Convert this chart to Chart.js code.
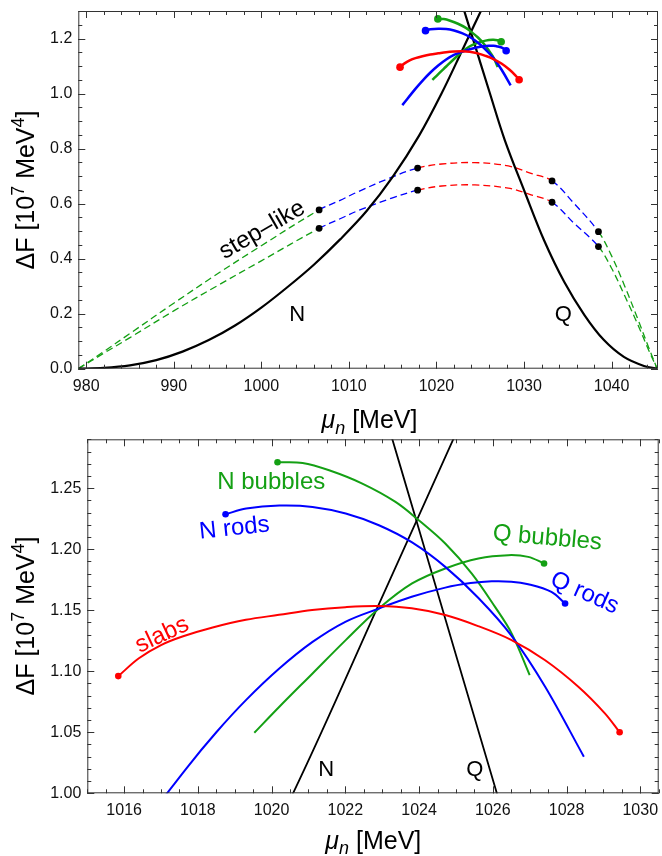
<!DOCTYPE html>
<html>
<head>
<meta charset="utf-8">
<script src="https://cdn.jsdelivr.net/npm/chart.js@4.4.1/dist/chart.umd.min.js"></script>
<style>
  html, body { margin: 0; padding: 0; background: #fff; }
  #wrap { position: relative; width: 662px; height: 856px; }
  canvas { position: absolute; left: 0; }
  #topChart { top: 0; }
  #bottomChart { top: 436px; }
</style>
</head>
<body>
<div id="wrap">
  <canvas id="topChart" width="662" height="436" style="width:662px;height:436px"></canvas>
  <canvas id="bottomChart" width="662" height="420" style="width:662px;height:420px"></canvas>
</div>
<script>
// --- tick labels ---
const topXTicks = [980, 990, 1000, 1010, 1020, 1030, 1040];
const topYTicks = [0, 0.2, 0.4, 0.6, 0.8, 1.0, 1.2];
const bottomXTicks = [1016, 1018, 1020, 1022, 1024, 1026, 1028, 1030];
const bottomYTicks = [1.00, 1.05, 1.10, 1.15, 1.20, 1.25];

// --- homogeneous phases (black) ---
const nPhaseX = [979.1, 982, 985, 988, 991, 994, 997, 1000, 1003, 1006, 1009, 1012, 1015, 1018, 1020.58, 1023, 1025.3];
const nPhaseY = [0, 0.003, 0.012, 0.031, 0.062, 0.104, 0.157, 0.222, 0.297, 0.378, 0.470, 0.572, 0.697, 0.846, 1.0, 1.161, 1.315];
const qPhaseX = [1023.0, 1024, 1026.11, 1027.8, 1030.05, 1032.3, 1034.6, 1036.9, 1039.1, 1041.4, 1043.7, 1045.2];
const qPhaseY = [1.318, 1.216, 1.0, 0.831, 0.645, 0.466, 0.315, 0.195, 0.105, 0.043, 0.01, 0];

// --- pasta phases ---
const slabsX = [1015.84, 1016.4, 1017.0, 1017.6, 1018.4, 1019.3, 1020.2, 1021.1, 1022.0, 1022.9, 1023.8, 1024.71, 1025.6, 1026.51, 1027.42, 1028.32, 1029.04, 1029.44];
const slabsY = [1.096, 1.1106, 1.1214, 1.1286, 1.1358, 1.1421, 1.1462, 1.1502, 1.1525, 1.1534, 1.1515, 1.146, 1.137, 1.1255, 1.109, 1.0873, 1.0655, 1.050];
const nRodsX = [1018.75, 1019.31, 1020.21, 1021.11, 1022.01, 1022.91, 1023.81, 1024.71, 1025.61, 1026.51, 1027.42, 1028.47];
const nRodsY = [1.2286, 1.2333, 1.2357, 1.2346, 1.2292, 1.2196, 1.2055, 1.1855, 1.160, 1.129, 1.0873, 1.030];
const qRodsX = [1016.1, 1017.69, 1018.5, 1019.31, 1020.2, 1021.11, 1022.0, 1022.91, 1023.8, 1024.71, 1025.4, 1025.97, 1026.5, 1026.96, 1027.59, 1027.96];
const qRodsY = [0.958, 1.0205, 1.0500, 1.0765, 1.1020, 1.1240, 1.1405, 1.1514, 1.1610, 1.1685, 1.1722, 1.1737, 1.1734, 1.1713, 1.1650, 1.1555];
const nBubblesX = [1020.16, 1020.84, 1021.56, 1022.46, 1023.36, 1023.99, 1024.71, 1025.43, 1026.06, 1026.51, 1027.0];
const nBubblesY = [1.2712, 1.2706, 1.2646, 1.2537, 1.2387, 1.2237, 1.2046, 1.180, 1.1527, 1.131, 1.0968];
const qBubblesX = [1019.53, 1020.21, 1021.11, 1022.01, 1022.91, 1023.81, 1024.71, 1025.61, 1026.42, 1026.96, 1027.39];
const qBubblesY = [1.0496, 1.0709, 1.0982, 1.1255, 1.1514, 1.1719, 1.1842, 1.1924, 1.1951, 1.1937, 1.1883];

// --- step-like profiles (dashed) ---
const stepX = [979.1, 982, 985, 990, 995, 1000, 1006.6, 1009, 1011.1, 1014.9, 1017.85, 1020.6, 1024.4, 1028.2, 1030.8, 1033.2, 1035.7, 1038.5, 1040, 1041.5, 1043, 1044.2, 1045.2];
const stepUpperY = [0, 0.062, 0.128, 0.238, 0.345, 0.447, 0.577, 0.612, 0.644, 0.696, 0.729, 0.744, 0.749, 0.737, 0.710, 0.6825, 0.601, 0.498, 0.41, 0.30, 0.18, 0.08, 0];
const stepLowerY = [0, 0.056, 0.113, 0.210, 0.302, 0.392, 0.510, 0.545, 0.575, 0.620, 0.649, 0.664, 0.668, 0.656, 0.632, 0.605, 0.529, 0.444, 0.365, 0.265, 0.16, 0.07, 0];
const stepBreaks = [1006.6, 1017.85, 1033.2, 1038.5];

const RED = '#ff0000', BLUE = '#0000ff', GREEN = 'rgb(20,160,20)', BLACK = '#000';
const stepColors = [GREEN, BLUE, RED, BLUE, GREEN];
const FONT = "'Liberation Sans', Arial, sans-serif";

function pts(xs, ys) {
    return xs.map((x, i) => ({ x: x, y: ys[i] }));
}

// a solid curve; dots = which ends get a filled circle
function curve(xs, ys, color, width, dots, r) {
    const last = xs.length - 1;
    return {
        data: pts(xs, ys),
        showLine: true,
        borderColor: color,
        borderWidth: width,
        pointBackgroundColor: color,
        pointBorderWidth: 0,
        pointRadius: xs.map((_, i) =>
            (dots.includes('start') && i === 0) || (dots.includes('end') && i === last) ? r : 0),
        pointHoverRadius: 0,
        tension: 0.35,
        fill: false
    };
}

function stepColor(x) {
    let k = 0;
    stepBreaks.forEach(b => { if (x >= b - 1e-6) k++; });
    return stepColors[k];
}

function stepCurve(ys) {
    return {
        data: pts(stepX, ys),
        showLine: true,
        borderColor: GREEN,
        borderWidth: 1.3,
        borderDash: [7, 4],
        pointRadius: 0,
        tension: 0.35,
        segment: { borderColor: c => stepColor(c.p0.parsed.x) },
        fill: false
    };
}

function stepDots() {
    const out = [];
    stepX.forEach((x, i) => {
        if (stepBreaks.includes(x)) {
            out.push({ x: x, y: stepUpperY[i] }, { x: x, y: stepLowerY[i] });
        }
    });
    return { data: out, showLine: false, pointRadius: 3.4, pointBackgroundColor: BLACK, pointBorderWidth: 0 };
}

// frame with inward ticks on all four sides (Mathematica style)
const framePlugin = {
    id: 'frame',
    afterDraw(chart, args, o) {
        const { ctx, chartArea: a, scales } = chart;
        const sx = scales.x, sy = scales.y;
        ctx.save();
        ctx.strokeStyle = '#333';
        ctx.lineWidth = 1;
        ctx.strokeRect(a.left + 0.5, a.top + 0.5, a.right - a.left - 1, a.bottom - a.top - 1);
        const minors = (s, step) => {
            const res = [];
            for (let k = Math.ceil(s.min / step - 1e-9); k <= Math.floor(s.max / step + 1e-9); k++) res.push(k * step);
            return res;
        };
        const xTick = (v, len) => {
            const p = Math.round(sx.getPixelForValue(v)) + 0.5;
            ctx.beginPath();
            ctx.moveTo(p, a.bottom); ctx.lineTo(p, a.bottom - len);
            ctx.moveTo(p, a.top); ctx.lineTo(p, a.top + len);
            ctx.stroke();
        };
        const yTick = (v, len) => {
            const p = Math.round(sy.getPixelForValue(v)) + 0.5;
            ctx.beginPath();
            ctx.moveTo(a.left, p); ctx.lineTo(a.left + len, p);
            ctx.moveTo(a.right, p); ctx.lineTo(a.right - len, p);
            ctx.stroke();
        };
        minors(sx, o.xMinor).forEach(v => xTick(v, 4));
        minors(sy, o.yMinor).forEach(v => yTick(v, 4));
        o.xMajor.forEach(v => xTick(v, 7));
        o.yMajor.forEach(v => yTick(v, 7));
        ctx.restore();
    }
};

function partFont(p, size) {
    const s = (p.sup || p.sub) ? Math.round(size * 0.7) : size;
    return (p.italic ? 'italic ' : '') + s + 'px ' + FONT;
}

function drawRich(ctx, parts, cx, baseY, size) {
    const widths = parts.map(p => { ctx.font = partFont(p, size); return ctx.measureText(p.t).width; });
    let x = cx - widths.reduce((s, w) => s + w, 0) / 2;
    ctx.textAlign = 'left';
    ctx.textBaseline = 'alphabetic';
    parts.forEach((p, i) => {
        ctx.font = partFont(p, size);
        const dy = p.sup ? -0.4 * size : (p.sub ? 0.22 * size : 0);
        ctx.fillText(p.t, x, baseY + dy);
        x += widths[i];
    });
}

const yTitleParts = [{ t: 'ΔF [10' }, { t: '7', sup: true }, { t: ' MeV' }, { t: '4', sup: true }, { t: ']' }];
const xTitleParts = [{ t: 'μ', italic: true }, { t: 'n', italic: true, sub: true }, { t: ' [MeV]' }];

// axis titles and in-plot labels
const textPlugin = {
    id: 'texts',
    afterDraw(chart, args, o) {
        const { ctx, scales } = chart;
        ctx.save();
        ctx.fillStyle = '#000';
        drawRich(ctx, xTitleParts, o.xTitle.x, o.xTitle.y, 25);
        ctx.translate(o.yTitle.x, o.yTitle.y);
        ctx.rotate(-Math.PI / 2);
        drawRich(ctx, yTitleParts, 0, 0, 25);
        ctx.restore();

        o.labels.forEach(l => {
            ctx.save();
            ctx.translate(scales.x.getPixelForValue(l.x), scales.y.getPixelForValue(l.y));
            ctx.rotate((l.rot || 0) * Math.PI / 180);
            ctx.fillStyle = l.color || '#000';
            ctx.font = l.size + 'px ' + FONT;
            ctx.textAlign = 'center';
            ctx.textBaseline = 'middle';
            ctx.fillText(l.text, 0, 0);
            ctx.restore();
        });
    }
};

function makeOptions(cfg) {
    const tickFont = { family: FONT, size: 16 };
    return {
        responsive: false,
        maintainAspectRatio: false,
        animation: false,
        events: [],
        layout: { padding: cfg.padding },
        scales: {
            x: {
                type: 'linear',
                min: cfg.xMin, max: cfg.xMax,
                afterBuildTicks: s => { s.ticks = cfg.xTicks.map(v => ({ value: v })); },
                afterFit: s => { s.height = cfg.xHeight; s.paddingLeft = 0; s.paddingRight = 0; },
                grid: { display: false, drawTicks: false },
                border: { display: false },
                ticks: { font: tickFont, color: '#111', padding: 8, maxRotation: 0, autoSkip: false, callback: v => String(v) }
            },
            y: {
                type: 'linear',
                min: cfg.yMin, max: cfg.yMax,
                afterBuildTicks: s => { s.ticks = cfg.yTicks.map(v => ({ value: v })); },
                afterFit: s => { s.width = cfg.yWidth; s.paddingTop = 0; s.paddingBottom = 0; },
                grid: { display: false, drawTicks: false },
                border: { display: false },
                ticks: { font: tickFont, color: '#111', padding: 6, autoSkip: false, callback: v => v.toFixed(cfg.yDigits) }
            }
        },
        plugins: {
            legend: { display: false },
            tooltip: { enabled: false },
            frame: { xMajor: cfg.xTicks, xMinor: cfg.xMinor, yMajor: cfg.yTicks, yMinor: cfg.yMinor },
            texts: { xTitle: cfg.xTitle, yTitle: cfg.yTitle, labels: cfg.labels }
        }
    };
}

// top: full range
new Chart(document.getElementById('topChart'), {
    type: 'scatter',
    data: {
        datasets: [
            stepDots(),
            curve(slabsX, slabsY, RED, 2.5, ['start', 'end'], 3.8),
            curve(nRodsX, nRodsY, BLUE, 2.5, ['start'], 3.8),
            curve(qRodsX, qRodsY, BLUE, 2.5, ['end'], 3.8),
            curve(nBubblesX, nBubblesY, GREEN, 2.5, ['start'], 3.8),
            curve(qBubblesX, qBubblesY, GREEN, 2.5, ['end'], 3.8),
            curve(nPhaseX, nPhaseY, BLACK, 2.2, [], 0),
            curve(qPhaseX, qPhaseY, BLACK, 2.2, [], 0),
            stepCurve(stepUpperY),
            stepCurve(stepLowerY)
        ]
    },
    options: makeOptions({
        padding: { top: 11, right: 1.3, left: 0, bottom: 0 },
        xMin: 979.1, xMax: 1045.3, xTicks: topXTicks, xMinor: 2, xHeight: 67.3,
        yMin: 0, yMax: 1.3, yTicks: topYTicks, yMinor: 0.05, yWidth: 78.3, yDigits: 1,
        xTitle: { x: 369.5, y: 428 },
        yTitle: { x: 34, y: 190 },
        labels: [
            { text: 'step–like', x: 1000.1, y: 0.504, rot: -30, size: 24 },
            { text: 'N', x: 1004.1, y: 0.195, size: 22 },
            { text: 'Q', x: 1034.5, y: 0.195, size: 22 }
        ]
    }),
    plugins: [framePlugin, textPlugin]
});

// bottom: zoom on the crossing region
new Chart(document.getElementById('bottomChart'), {
    type: 'scatter',
    data: {
        datasets: [
            curve(slabsX, slabsY, RED, 2, ['start', 'end'], 3.3),
            curve(nRodsX, nRodsY, BLUE, 2, ['start'], 3.3),
            curve(qRodsX, qRodsY, BLUE, 2, ['end'], 3.3),
            curve(nBubblesX, nBubblesY, GREEN, 2, ['start'], 3.3),
            curve(qBubblesX, qBubblesY, GREEN, 2, ['end'], 3.3),
            curve(nPhaseX, nPhaseY, BLACK, 1.8, [], 0),
            curve(qPhaseX, qPhaseY, BLACK, 1.8, [], 0)
        ]
    },
    options: makeOptions({
        padding: { top: 3, right: 2.7, left: 0, bottom: 0 },
        xMin: 1015, xMax: 1030.5, xTicks: bottomXTicks, xMinor: 0.5, xHeight: 62.7,
        yMin: 1.0, yMax: 1.29, yTicks: bottomYTicks, yMinor: 0.01, yWidth: 87.3, yDigits: 2,
        xTitle: { x: 373.3, y: 412.5 },
        yTitle: { x: 34, y: 180 },
        labels: [
            { text: 'N bubbles', x: 1019.99, y: 1.255, color: GREEN, size: 24 },
            { text: 'N rods', x: 1018.99, y: 1.217, rot: -6, color: BLUE, size: 24 },
            { text: 'Q bubbles', x: 1027.48, y: 1.209, rot: 5, color: GREEN, size: 24 },
            { text: 'Q rods', x: 1028.49, y: 1.164, rot: 24, color: BLUE, size: 24 },
            { text: 'slabs', x: 1017.03, y: 1.1296, rot: -25, color: RED, size: 24 },
            { text: 'N', x: 1021.48, y: 1.019, size: 22 },
            { text: 'Q', x: 1025.51, y: 1.019, size: 22 }
        ]
    }),
    plugins: [framePlugin, textPlugin]
});
</script>
</body>
</html>
